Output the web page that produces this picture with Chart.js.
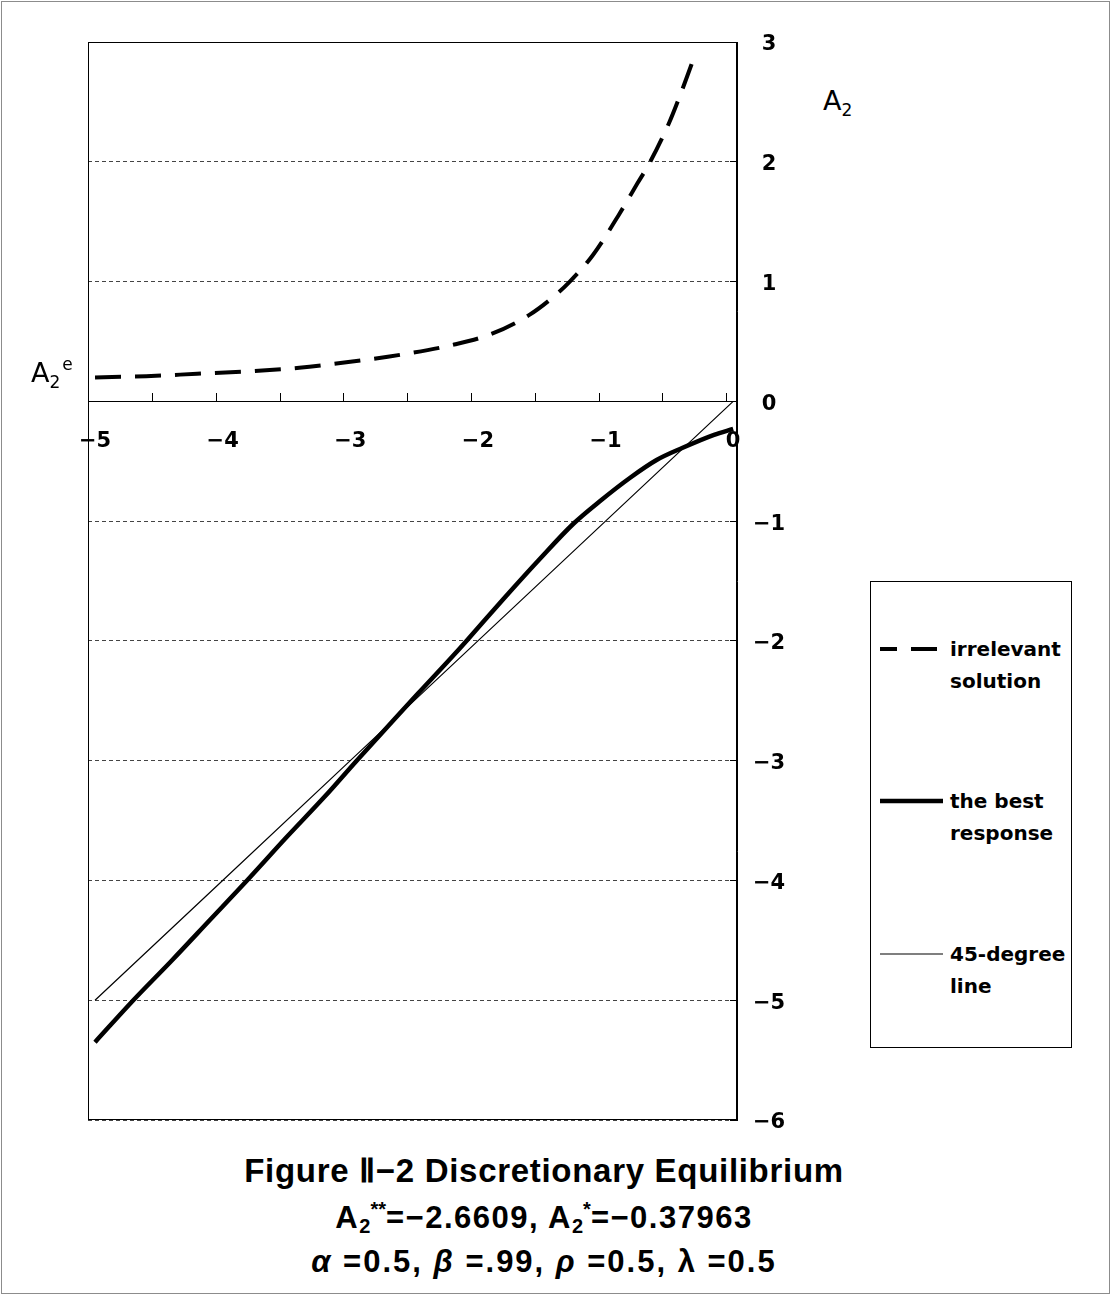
<!DOCTYPE html>
<html>
<head>
<meta charset="utf-8">
<script src="https://cdn.jsdelivr.net/npm/chart.js@4.4.0/dist/chart.umd.min.js"></script>
<style>
body { margin: 0; background: #fff; font-family: "DejaVu Sans", sans-serif; color: #000; }
#frame { position: absolute; left: 1px; top: 1px; width: 1107px; height: 1291px; border: 1px solid #8c8c8c; }
#chartBox { position: absolute; left: 0; top: 0; width: 820px; height: 1140px; }
.axisName { position: absolute; font-size: 27px; line-height: 27px; white-space: nowrap; }
.axisName sub, .axisName sup { font-size: 17px; line-height: 0; }
.axisName sub { vertical-align: -6px; }
.axisName sup { vertical-align: 12px; margin-left: 2px; }
#legend { position: absolute; left: 870px; top: 581px; width: 200px; height: 465px; border: 1px solid #000; }
#legend .item { position: absolute; left: 0; height: 32px; }
#legend svg { position: absolute; left: 9px; top: 11px; }
#legend span { position: absolute; left: 79px; top: 0; font-size: 20px; font-weight: bold; line-height: 32px; white-space: nowrap; }
.cap { position: absolute; left: 0; width: 1088px; text-align: center; font-family: "Liberation Sans", sans-serif; font-weight: bold; white-space: nowrap; }
.cap sub, .cap sup { font-size: 20px; line-height: 0; letter-spacing: 0; }
.cap sub { vertical-align: -5px; }
.cap sup { vertical-align: 12px; }
</style>
</head>
<body>
<div id="frame"></div>
<div id="chartBox"><canvas id="chartFig"></canvas></div>
<div class="axisName" style="left:823px; top:87px;">A<sub>2</sub></div>
<div class="axisName" style="left:31px; top:359px;">A<sub>2</sub><sup>e</sup></div>
<div id="legend"></div>
<div class="cap" style="top:1151px; font-size:33px; line-height:40px; letter-spacing:0.7px;">Figure Ⅱ−2 Discretionary Equilibrium</div>
<div class="cap" style="top:1198px; font-size:31px; line-height:40px; letter-spacing:1.5px;">A<sub>2</sub><sup>**</sup>=−2.6609, A<sub>2</sub><sup>*</sup>=−0.37963</div>
<div class="cap" style="top:1242px; font-size:31px; line-height:40px; letter-spacing:2px;"><i>α</i> =0.5, <i>β</i> =.99, <i>ρ</i> =0.5, λ =0.5</div>

<script>
// values
var irrX = [-5.0, -4.6, -4.2, -3.8, -3.4, -3.0, -2.6, -2.2, -1.9, -1.6, -1.4, -1.28, -1.1, -0.9, -0.75, -0.65, -0.5, -0.4, -0.29];
var irrY = [0.20, 0.21, 0.23, 0.25, 0.28, 0.33, 0.39, 0.47, 0.56, 0.72, 0.88, 1.0, 1.22, 1.55, 1.82, 2.0, 2.33, 2.6, 2.92];

var bestX = [-5.0, -4.7, -4.4, -4.1, -3.8, -3.5, -3.2, -2.95, -2.66, -2.47, -2.2, -2.09, -1.8, -1.51, -1.25, -1.04, -0.81, -0.6, -0.4, -0.15, 0];
var bestY = [-5.35, -5.0, -4.67, -4.33, -3.99, -3.64, -3.3, -3.0, -2.66, -2.44, -2.13, -2.0, -1.65, -1.31, -1.02, -0.83, -0.64, -0.49, -0.39, -0.28, -0.23];

var degX = [-5, -4, -3, -2, -1, 0];
var degY = [-5, -4, -3, -2, -1, 0];

var seriesNames = [['irrelevant', 'solution'], ['the best', 'response'], ['45-degree', 'line']];

var xLabelTicks = [-5, -4, -3, -2, -1, 0];
var xMarkTicks = [-4.55, -4.05, -3.55, -3.05, -2.55, -2.05, -1.55, -1.05, -0.55, -0.05];
var yMin = -6, yMax = 3;
var xMin = -5.055, xMax = 0.03;

function pts(xs, ys) {
    return xs.map(function (x, i) { return { x: x, y: ys[i] }; });
}
function fmt(v) {
    return v < 0 ? '\u2212' + Math.abs(v) : String(v);
}
function noPad(s) {
    s.paddingLeft = 0; s.paddingRight = 0; s.paddingTop = 0; s.paddingBottom = 0;
}

Chart.defaults.font.family = '"DejaVu Sans", sans-serif';
Chart.defaults.color = '#000';

// plot frame (left / top / bottom edges)
var frame = {
    id: 'frame',
    beforeDatasetsDraw: function (chart) {
        var a = chart.chartArea, ctx = chart.ctx;
        ctx.save();
        ctx.strokeStyle = '#000';
        ctx.lineWidth = 1;
        ctx.strokeRect(a.left + 0.5, a.top + 0.5, a.right - a.left - 1, a.bottom - a.top - 1);
        ctx.restore();
    }
};

var canvas = document.getElementById('chartFig');
var chart = new Chart(canvas, {
    type: 'line',
    data: {
        datasets: [{
            label: seriesNames[0].join(' '),
            data: pts(irrX, irrY),
            borderColor: '#000',
            borderWidth: 4,
            borderDash: [26, 14],
            pointRadius: 0,
            cubicInterpolationMode: 'monotone',
            fill: false
        }, {
            label: seriesNames[1].join(' '),
            data: pts(bestX, bestY),
            borderColor: '#000',
            borderWidth: 4.5,
            pointRadius: 0,
            cubicInterpolationMode: 'monotone',
            fill: false
        }, {
            label: seriesNames[2].join(' '),
            data: pts(degX, degY),
            borderColor: '#000',
            borderWidth: 1.2,
            pointRadius: 0,
            fill: false
        }]
    },
    options: {
        responsive: true,
        maintainAspectRatio: false,
        animation: false,
        layout: { padding: { left: 88, top: 42, right: 23, bottom: 20 } },
        plugins: { legend: { display: false }, tooltip: { enabled: false } },
        scales: {
            x: {
                type: 'linear', min: xMin, max: xMax,
                position: { y: 0 },
                afterBuildTicks: function (s) { s.ticks = xLabelTicks.map(function (v) { return { value: v }; }); },
                afterFit: noPad,
                grid: { display: false },
                border: { display: true, color: '#000', width: 1 },
                ticks: { padding: 20, font: { size: 21, weight: 'bold' }, color: '#000', maxRotation: 0, autoSkip: false, callback: fmt }
            },
            xm: {
                type: 'linear', axis: 'x', min: xMin, max: xMax,
                position: { y: 0 },
                afterBuildTicks: function (s) { s.ticks = xMarkTicks.map(function (v) { return { value: v }; }); },
                afterFit: noPad,
                grid: { display: true, drawOnChartArea: false, drawTicks: true, tickLength: -8, tickColor: '#000', tickWidth: 1 },
                border: { display: false },
                ticks: { display: false }
            },
            y: {
                type: 'linear', position: 'right', min: yMin, max: yMax,
                afterFit: function (s) { noPad(s); s.width = 60; },
                grid: { color: '#444', lineWidth: 1, drawTicks: true, tickLength: -7, tickColor: '#000', tickWidth: 1 },
                border: { display: true, color: '#000', width: 1, dash: [4, 3] },
                ticks: { stepSize: 1, padding: 23, labelOffset: 3, crossAlign: 'center', font: { size: 21, weight: 'bold' }, color: '#000', callback: fmt }
            }
        }
    },
    plugins: [frame]
});

// legend built from the datasets
var legendBox = document.getElementById('legend');
var legendRows = [67, 219, 372];
chart.data.datasets.forEach(function (ds, i) {
    var item = document.createElement('div');
    item.className = 'item';
    item.style.top = (legendRows[i] - 16) + 'px';
    var dash = (ds.borderDash || []).join(' ');
    item.innerHTML = '<svg width="63" height="10"><line x1="0" y1="5" x2="63" y2="5" stroke="' + ds.borderColor +
        '" stroke-width="' + ds.borderWidth + '"' + (dash ? ' stroke-dasharray="' + dash + '" stroke-dashoffset="9"' : '') +
        '/></svg><span>' + seriesNames[i].join('<br>') + '</span>';
    legendBox.appendChild(item);
});
</script>
</body>
</html>
